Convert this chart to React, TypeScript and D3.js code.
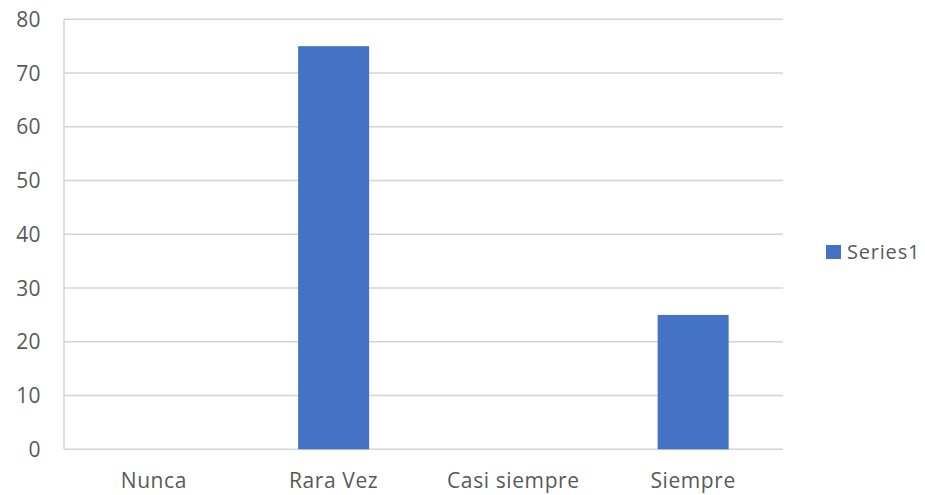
import React from "react";
import * as d3 from "d3";

const categories = ["Nunca", "Rara Vez", "Casi siempre", "Siempre"];
const values = [0, 75, 0, 25];
const yTicks = [0, 10, 20, 30, 40, 50, 60, 70, 80];
const seriesName = "Series1";

export default function App() {
  const W = 925, H = 495;
  const left = 64, right = 783, top = 19.3, bottom = 449.3;
  const x = d3.scaleBand<string>().domain(categories).range([left, right]).paddingInner(0.605).paddingOuter(0.3025);
  const y = d3.scaleLinear().domain([0, 80]).range([bottom, top]);
  const font = "'Open Sans', sans-serif";
  const grey = "#595959";
  return (
    <svg width={W} height={H} style={{ position: "absolute", left: 0, top: 0, background: "#fff" }}>
      {yTicks.map((t) => (
        <g key={t}>
          <line x1={left} x2={right} y1={y(t)} y2={y(t)} stroke="#d4d4d4" strokeWidth={1.5} />
          <text x={41} y={y(t)} dy="0.36em" textAnchor="end" fontFamily={font} fontSize={21} letterSpacing={0.4} fill={grey}>{t}</text>
        </g>
      ))}
      <line x1={left} x2={left} y1={top} y2={bottom} stroke="#d4d4d4" strokeWidth={1.5} />
      {categories.map((c, i) => (
        <g key={c}>
          {values[i] > 0 && (
            <rect x={x(c)} y={y(values[i])} width={x.bandwidth()} height={bottom - y(values[i])} fill="#4472c4" />
          )}
          <text x={(x(c) as number) + x.bandwidth() / 2} y={488} textAnchor="middle" fontFamily={font} fontSize={21} letterSpacing={0.6} fill={grey}>{c}</text>
        </g>
      ))}
      <rect x={826} y={245} width={15} height={14} fill="#4472c4" />
      <text x={847} y={259} fontFamily={font} fontSize={20} letterSpacing={0.8} fill={grey}>{seriesName}</text>
    </svg>
  );
}
